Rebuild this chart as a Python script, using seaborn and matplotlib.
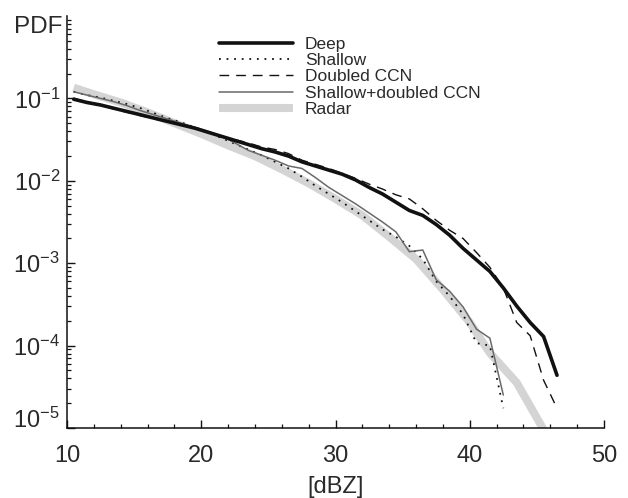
import numpy as np
import pandas as pd
import matplotlib
matplotlib.use("Agg")
import matplotlib.pyplot as plt
import matplotlib.ticker as mticker
import seaborn as sns

# ---- data (stored as log10(PDF)) ----
dbz_deep = [10.5, 11.5, 12.5, 13.5, 14.5, 15.5, 16.5, 17.5, 18.5, 19.5,
            20.5, 21.5, 22.5, 23.5, 24.5, 25.5, 26.5, 27.5, 28.5, 29.5,
            30.5, 31.5, 32.5, 33.5, 34.5, 35.5, 36.5, 37.5, 38.5, 39.5,
            40.5, 41.5, 42.5, 43.5, 44.5, 45.5, 46.5]
deep_log10 = [-1.01, -1.05, -1.08, -1.12, -1.16, -1.20, -1.24, -1.28, -1.32, -1.36,
              -1.41, -1.46, -1.51, -1.56, -1.61, -1.65, -1.70, -1.77, -1.82, -1.87,
              -1.92, -1.99, -2.08, -2.16, -2.26, -2.36, -2.42, -2.53, -2.66, -2.82,
              -2.96, -3.10, -3.30, -3.52, -3.72, -3.89, -4.36]
ccn_log10 = [-1.00, -1.04, -1.08, -1.13, -1.17, -1.21, -1.25, -1.28, -1.32, -1.36,
             -1.41, -1.46, -1.50, -1.54, -1.59, -1.62, -1.67, -1.75, -1.80, -1.85,
             -1.91, -1.97, -2.04, -2.10, -2.17, -2.22, -2.34, -2.48, -2.60, -2.70,
             -2.87, -3.05, -3.30, -3.72, -3.88, -4.42, -4.76]

dbz_shallow = [10.5, 11.5, 12.5, 13.5, 14.5, 15.5, 16.5, 17.5, 18.5, 19.5,
               20.5, 21.5, 22.5, 23.5, 24.5, 25.5, 26.5, 27.5, 28.5, 29.5,
               30.5, 31.5, 32.5, 33.5, 34.5, 35.5, 36.5, 37.5, 38.5, 39.5,
               40.5, 41.5, 42.5]
shallow_log10 = [-0.92, -0.96, -0.99, -1.03, -1.07, -1.12, -1.18, -1.24, -1.29, -1.35,
                 -1.41, -1.48, -1.55, -1.62, -1.69, -1.77, -1.85, -1.95, -2.06, -2.16,
                 -2.26, -2.37, -2.48, -2.59, -2.68, -2.79, -2.95, -3.22, -3.40, -3.62,
                 -3.97, -4.00, -4.76]
shallow_ccn_log10 = [-0.92, -0.96, -1.00, -1.04, -1.09, -1.15, -1.20, -1.25, -1.30, -1.35,
                     -1.40, -1.46, -1.54, -1.63, -1.69, -1.75, -1.82, -1.85, -1.96, -2.08,
                     -2.18, -2.28, -2.39, -2.50, -2.62, -2.86, -2.84, -3.20, -3.34, -3.53,
                     -3.80, -3.91, -4.60]

dbz_radar = [10.5, 12, 14, 16, 18, 20, 22, 24, 26, 28, 30, 32, 34, 36, 38, 40, 41.5, 43.5, 45.5]
radar_log10 = [-0.87, -0.95, -1.05, -1.17, -1.30, -1.43, -1.57, -1.70, -1.86, -2.03,
               -2.22, -2.42, -2.68, -2.95, -3.32, -3.72, -4.09, -4.45, -5.02]

labels = ["Deep", "Shallow", "Doubled CCN", "Shallow+doubled CCN", "Radar"]
x_ticks = [10, 20, 30, 40, 50]
y_ticks = [1e-5, 1e-4, 1e-3, 1e-2, 1e-1]

# ---- style ----
sns.set_theme(style="ticks")
plt.rcParams["font.family"] = ["Liberation Sans", "DejaVu Sans"]
plt.rcParams["mathtext.fontset"] = "custom"
plt.rcParams["mathtext.rm"] = "Liberation Sans"
plt.rcParams["mathtext.it"] = "Liberation Sans:italic"
plt.rcParams["mathtext.default"] = "regular"
txt = "#2a2a2a"
fs = 17

fig = plt.figure(figsize=(6.28, 4.98), dpi=100)
ax = fig.add_axes([67 / 628, 1 - 428 / 498, (604 - 67) / 628, (428 - 16) / 498])

def to_pdf(v):
    return np.power(10.0, np.asarray(v))

series = [
    (dbz_radar, radar_log10, labels[4], dict(color="#d4d4d4", lw=5.8, linestyle="-", solid_capstyle="butt", zorder=1)),
    (dbz_shallow, shallow_log10, labels[1], dict(color="#111111", lw=1.3, linestyle=(0, (1.0, 3.2)), zorder=3)),
    (dbz_shallow, shallow_ccn_log10, labels[3], dict(color="#6a6a6a", lw=1.1, linestyle="-", zorder=4)),
    (dbz_deep, ccn_log10, labels[2], dict(color="#111111", lw=1.0, linestyle=(0, (7, 5)), zorder=5)),
    (dbz_deep, deep_log10, labels[0], dict(color="#111111", lw=2.6, linestyle="-", zorder=6)),
]
handles = {}
for xs, ys, lab, kw in series:
    df = pd.DataFrame({"dBZ": xs, "PDF": to_pdf(ys)})
    sns.lineplot(data=df, x="dBZ", y="PDF", ax=ax, sort=False, estimator=None,
                 label=lab, **kw)
    handles[lab] = ax.get_lines()[-1]

ax.set_yscale("log")
ax.set_xlim(10, 50)
ax.set_ylim(1e-5, 1)

ax.xaxis.set_major_locator(mticker.FixedLocator(x_ticks))
ax.xaxis.set_minor_locator(mticker.MultipleLocator(2))
ax.yaxis.set_major_locator(mticker.FixedLocator(y_ticks))
ax.yaxis.set_minor_locator(mticker.LogLocator(base=10, subs=np.arange(2, 10)))
ax.yaxis.set_minor_formatter(mticker.NullFormatter())

def yfmt(v, pos):
    e = int(round(np.log10(v)))
    if e == -5:
        return ""
    return r"$10^{%d}$" % e
ax.yaxis.set_major_formatter(mticker.FuncFormatter(yfmt))
ax.text(-0.013, 0.0, r"$10^{-5}$", transform=ax.transAxes, ha="right", va="baseline",
        fontsize=fs, color=txt)

ax.tick_params(axis="both", which="major", direction="in", length=6, width=1.0,
               labelsize=fs, labelcolor=txt, color="#111111")
ax.tick_params(axis="both", which="minor", direction="in", length=3, width=0.9, color="#111111")
ax.tick_params(axis="x", which="major", pad=12)
ax.tick_params(axis="y", which="major", pad=5)

for s in ["top", "right"]:
    ax.spines[s].set_visible(False)
for s in ["left", "bottom"]:
    ax.spines[s].set_linewidth(1.1)
    ax.spines[s].set_color("#111111")

ax.set_xlabel("[dBZ]", fontsize=fs, color=txt, labelpad=7)
ax.set_ylabel("PDF", rotation=0, fontsize=17.5, color=txt, ha="right", va="center")
ax.yaxis.set_label_coords(-0.008, 0.973)

leg = ax.legend([handles[l] for l in labels], labels, loc="upper left",
                bbox_to_anchor=(0.283, 0.950), frameon=False, fontsize=12.5,
                handlelength=4.25, handletextpad=0.7, labelspacing=0.07,
                borderpad=0, borderaxespad=0)
for t in leg.get_texts():
    t.set_color(txt)

fig.savefig("out.png", dpi=100)
